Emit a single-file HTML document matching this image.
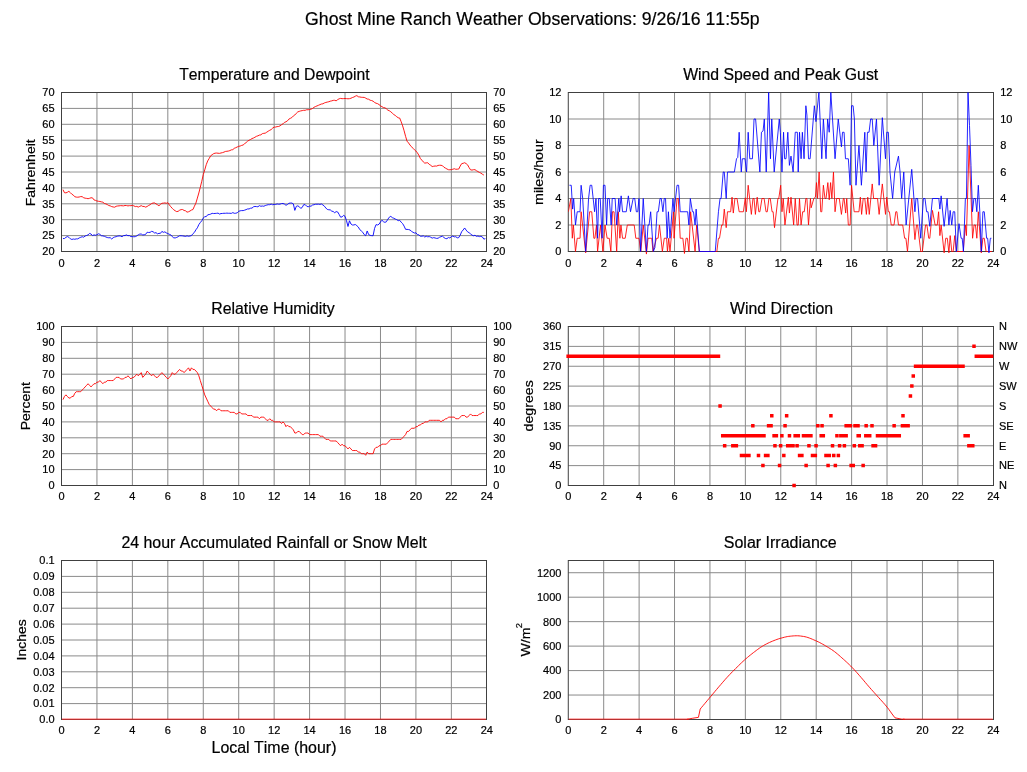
<!DOCTYPE html>
<html><head><meta charset="utf-8"><title>Ghost Mine Ranch Weather Observations</title>
<style>html,body{margin:0;padding:0;background:#fff;overflow:hidden;}svg{display:block;will-change:transform;}text{font-family:"Liberation Sans", sans-serif;font-kerning:none;stroke:#000;stroke-width:0.2px;}</style>
</head><body>
<svg width="1027" height="772" viewBox="0 0 1027 772" font-family='"Liberation Sans", sans-serif' fill="#000">
<rect width="1027" height="772" fill="#fff"/>
<text x="305.11" y="25.3" font-size="17.6" textLength="454.43" lengthAdjust="spacingAndGlyphs">Ghost Mine Ranch Weather Observations: 9/26/16 11:55p</text>
<path d="M96.94 92.5V251.5M132.38 92.5V251.5M167.82 92.5V251.5M203.27 92.5V251.5M238.71 92.5V251.5M274.15 92.5V251.5M309.59 92.5V251.5M345.03 92.5V251.5M380.48 92.5V251.5M415.92 92.5V251.5M451.36 92.5V251.5M61.5 235.6H486.5M61.5 219.7H486.5M61.5 203.8H486.5M61.5 187.9H486.5M61.5 172H486.5M61.5 156.1H486.5M61.5 140.2H486.5M61.5 124.3H486.5M61.5 108.4H486.5" stroke="#8a8a8a" stroke-width="1" fill="none"/>
<text x="61.5" y="266.9" text-anchor="middle" font-size="11.0">0</text>
<text x="96.94" y="266.9" text-anchor="middle" font-size="11.0">2</text>
<text x="132.38" y="266.9" text-anchor="middle" font-size="11.0">4</text>
<text x="167.82" y="266.9" text-anchor="middle" font-size="11.0">6</text>
<text x="203.27" y="266.9" text-anchor="middle" font-size="11.0">8</text>
<text x="238.71" y="266.9" text-anchor="middle" font-size="11.0">10</text>
<text x="274.15" y="266.9" text-anchor="middle" font-size="11.0">12</text>
<text x="309.59" y="266.9" text-anchor="middle" font-size="11.0">14</text>
<text x="345.03" y="266.9" text-anchor="middle" font-size="11.0">16</text>
<text x="380.48" y="266.9" text-anchor="middle" font-size="11.0">18</text>
<text x="415.92" y="266.9" text-anchor="middle" font-size="11.0">20</text>
<text x="451.36" y="266.9" text-anchor="middle" font-size="11.0">22</text>
<text x="486.8" y="266.9" text-anchor="middle" font-size="11.0">24</text>
<text x="54.6" y="255.35" text-anchor="end" font-size="11.0">20</text>
<text x="54.6" y="239.45" text-anchor="end" font-size="11.0">25</text>
<text x="54.6" y="223.55" text-anchor="end" font-size="11.0">30</text>
<text x="54.6" y="207.65" text-anchor="end" font-size="11.0">35</text>
<text x="54.6" y="191.75" text-anchor="end" font-size="11.0">40</text>
<text x="54.6" y="175.85" text-anchor="end" font-size="11.0">45</text>
<text x="54.6" y="159.95" text-anchor="end" font-size="11.0">50</text>
<text x="54.6" y="144.05" text-anchor="end" font-size="11.0">55</text>
<text x="54.6" y="128.15" text-anchor="end" font-size="11.0">60</text>
<text x="54.6" y="112.25" text-anchor="end" font-size="11.0">65</text>
<text x="54.6" y="96.35" text-anchor="end" font-size="11.0">70</text>
<text x="493.15" y="255.35" text-anchor="start" font-size="11.0">20</text>
<text x="493.15" y="239.45" text-anchor="start" font-size="11.0">25</text>
<text x="493.15" y="223.55" text-anchor="start" font-size="11.0">30</text>
<text x="493.15" y="207.65" text-anchor="start" font-size="11.0">35</text>
<text x="493.15" y="191.75" text-anchor="start" font-size="11.0">40</text>
<text x="493.15" y="175.85" text-anchor="start" font-size="11.0">45</text>
<text x="493.15" y="159.95" text-anchor="start" font-size="11.0">50</text>
<text x="493.15" y="144.05" text-anchor="start" font-size="11.0">55</text>
<text x="493.15" y="128.15" text-anchor="start" font-size="11.0">60</text>
<text x="493.15" y="112.25" text-anchor="start" font-size="11.0">65</text>
<text x="493.15" y="96.35" text-anchor="start" font-size="11.0">70</text>
<text x="179.25" y="80" font-size="15.8" textLength="190.27" lengthAdjust="spacingAndGlyphs">Temperature and Dewpoint</text>
<text transform="translate(35 206.25) rotate(-90)" font-size="13.7" textLength="66.95" lengthAdjust="spacingAndGlyphs">Fahrenheit</text>
<rect x="61.5" y="92.5" width="425" height="159" fill="none" stroke="#404040" stroke-width="1"/>
<path d="M62.98 189.64 L64.45 192.71 L65.93 192.87 L67.41 192.25 L68.88 191.30 L70.36 192.69 L71.84 194.19 L73.31 195.10 L74.79 196.72 L76.27 197.10 L77.74 197.20 L79.22 197.01 L80.70 196.58 L82.17 196.66 L83.65 197.73 L85.13 198.18 L86.60 198.40 L88.08 198.69 L89.56 198.31 L91.03 197.78 L92.51 197.87 L93.99 199.91 L95.46 200.38 L96.94 200.99 L98.42 201.28 L99.90 201.48 L101.37 201.85 L102.85 202.20 L104.33 203.43 L105.80 203.86 L107.28 204.56 L108.76 205.51 L110.23 205.88 L111.71 206.61 L113.19 206.96 L114.66 207.20 L116.14 206.31 L117.62 205.98 L119.09 205.85 L120.57 205.64 L122.05 205.74 L123.52 205.86 L125.00 205.48 L126.48 205.56 L127.95 205.90 L129.43 205.65 L130.91 205.69 L132.38 205.42 L133.86 205.89 L135.34 206.58 L136.81 206.40 L138.29 207.09 L139.77 206.39 L141.24 205.67 L142.72 206.44 L144.20 206.49 L145.67 207.15 L147.15 206.48 L148.63 205.48 L150.10 204.70 L151.58 203.54 L153.06 203.04 L154.53 202.91 L156.01 203.87 L157.49 204.76 L158.96 205.74 L160.44 204.39 L161.92 203.25 L163.39 203.13 L164.87 202.90 L166.35 203.27 L167.82 202.69 L169.30 204.85 L170.78 206.71 L172.26 208.32 L173.73 209.79 L175.21 210.78 L176.69 211.62 L178.16 211.32 L179.64 210.19 L181.12 209.62 L182.59 209.53 L184.07 210.46 L185.55 210.80 L187.02 212.17 L188.50 211.77 L189.98 211.04 L191.45 210.05 L192.93 209.55 L194.41 206.22 L195.88 203.10 L197.36 198.10 L198.84 192.98 L200.31 187.25 L201.79 181.21 L203.27 174.61 L204.74 169.88 L206.22 164.71 L207.70 160.92 L209.17 158.49 L210.65 155.82 L212.13 154.71 L213.60 153.65 L215.08 153.20 L216.56 153.05 L218.03 153.23 L219.51 153.36 L220.99 152.98 L222.46 152.65 L223.94 152.13 L225.42 151.46 L226.89 151.29 L228.37 151.05 L229.85 150.60 L231.32 149.87 L232.80 149.66 L234.28 148.32 L235.75 147.72 L237.23 146.96 L238.71 146.33 L240.19 146.02 L241.66 145.40 L243.14 145.01 L244.62 143.65 L246.09 142.63 L247.57 141.17 L249.05 140.26 L250.52 139.50 L252.00 138.57 L253.48 138.00 L254.95 137.24 L256.43 136.33 L257.91 135.84 L259.38 135.11 L260.86 134.84 L262.34 133.66 L263.81 133.33 L265.29 133.15 L266.77 132.17 L268.24 131.20 L269.72 130.29 L271.20 129.57 L272.67 128.11 L274.15 127.10 L275.63 127.06 L277.10 126.61 L278.58 126.47 L280.06 125.82 L281.53 124.71 L283.01 123.84 L284.49 122.35 L285.96 121.80 L287.44 120.85 L288.92 119.08 L290.39 118.34 L291.87 117.57 L293.35 115.95 L294.82 115.01 L296.30 113.31 L297.78 111.92 L299.25 111.39 L300.73 110.90 L302.21 110.61 L303.68 110.30 L305.16 110.32 L306.64 109.73 L308.11 109.78 L309.59 109.46 L311.07 109.10 L312.55 108.47 L314.02 107.31 L315.50 106.49 L316.98 105.93 L318.45 105.30 L319.93 104.63 L321.41 104.03 L322.88 103.79 L324.36 102.95 L325.84 102.45 L327.31 102.08 L328.79 101.73 L330.27 101.18 L331.74 100.85 L333.22 100.36 L334.70 100.29 L336.17 100.81 L337.65 99.64 L339.13 98.81 L340.60 98.41 L342.08 98.68 L343.56 98.61 L345.03 98.43 L346.51 98.63 L347.99 98.80 L349.46 98.66 L350.94 98.25 L352.42 97.54 L353.89 97.06 L355.37 96.17 L356.85 95.58 L358.32 96.76 L359.80 96.96 L361.28 97.28 L362.75 97.37 L364.23 97.40 L365.71 98.13 L367.18 99.03 L368.66 99.22 L370.14 100.23 L371.61 100.54 L373.09 101.20 L374.57 102.44 L376.04 103.23 L377.52 103.61 L379.00 104.57 L380.48 105.79 L381.95 106.68 L383.43 107.53 L384.91 107.81 L386.38 108.75 L387.86 110.17 L389.34 110.77 L390.81 111.78 L392.29 113.16 L393.77 114.52 L395.24 115.43 L396.72 116.72 L398.20 117.78 L399.67 118.02 L401.15 121.71 L402.63 125.87 L404.10 130.75 L405.58 136.33 L407.06 141.19 L408.53 142.90 L410.01 145.05 L411.49 146.70 L412.96 148.27 L414.44 149.81 L415.92 151.05 L417.39 152.80 L418.87 155.31 L420.35 158.45 L421.82 160.13 L423.30 161.88 L424.78 163.13 L426.25 162.86 L427.73 162.72 L429.21 164.36 L430.68 165.26 L432.16 166.54 L433.64 166.25 L435.11 165.99 L436.59 166.11 L438.07 165.45 L439.54 165.25 L441.02 165.28 L442.50 165.73 L443.97 167.27 L445.45 168.10 L446.93 168.97 L448.40 169.70 L449.88 169.81 L451.36 169.60 L452.84 169.24 L454.31 168.74 L455.79 169.28 L457.27 169.20 L458.74 169.05 L460.22 166.02 L461.70 163.63 L463.17 163.30 L464.65 162.73 L466.13 163.64 L467.60 164.85 L469.08 167.59 L470.56 169.85 L472.03 170.09 L473.51 169.69 L474.99 169.66 L476.46 170.73 L477.94 171.55 L479.42 172.48 L480.89 173.08 L482.37 174.23 L483.85 175.07" fill="none" stroke="#ff0000" stroke-width="0.9" stroke-linejoin="round" stroke-linecap="butt"/>
<path d="M62.98 238.53 L64.45 238.55 L65.93 237.31 L67.41 236.56 L68.88 237.31 L70.36 238.82 L71.84 239.46 L73.31 239.01 L74.79 239.28 L76.27 238.87 L77.74 238.89 L79.22 237.93 L80.70 237.32 L82.17 236.71 L83.65 237.19 L85.13 236.01 L86.60 235.47 L88.08 234.89 L89.56 233.46 L91.03 233.99 L92.51 235.58 L93.99 234.88 L95.46 235.23 L96.94 234.77 L98.42 233.78 L99.90 234.33 L101.37 235.71 L102.85 235.90 L104.33 236.30 L105.80 236.94 L107.28 237.53 L108.76 237.79 L110.23 237.68 L111.71 238.99 L113.19 237.71 L114.66 237.01 L116.14 236.70 L117.62 236.19 L119.09 235.88 L120.57 236.09 L122.05 236.72 L123.52 235.62 L125.00 235.52 L126.48 234.93 L127.95 235.68 L129.43 235.58 L130.91 236.66 L132.38 236.52 L133.86 236.81 L135.34 236.64 L136.81 235.91 L138.29 234.76 L139.77 234.08 L141.24 234.00 L142.72 234.93 L144.20 234.75 L145.67 234.34 L147.15 232.24 L148.63 232.48 L150.10 232.35 L151.58 231.37 L153.06 231.72 L154.53 232.96 L156.01 232.66 L157.49 233.84 L158.96 233.37 L160.44 233.33 L161.92 231.39 L163.39 232.34 L164.87 231.85 L166.35 232.90 L167.82 233.58 L169.30 234.30 L170.78 234.82 L172.26 236.65 L173.73 237.82 L175.21 237.93 L176.69 237.42 L178.16 236.70 L179.64 235.75 L181.12 235.75 L182.59 235.91 L184.07 236.12 L185.55 236.48 L187.02 235.82 L188.50 236.33 L189.98 235.97 L191.45 235.64 L192.93 233.70 L194.41 232.40 L195.88 229.80 L197.36 227.81 L198.84 224.60 L200.31 222.55 L201.79 220.76 L203.27 218.14 L204.74 216.59 L206.22 216.67 L207.70 214.79 L209.17 214.56 L210.65 214.12 L212.13 213.34 L213.60 213.55 L215.08 213.44 L216.56 213.34 L218.03 213.10 L219.51 214.04 L220.99 213.55 L222.46 213.45 L223.94 213.27 L225.42 213.30 L226.89 213.11 L228.37 213.28 L229.85 213.25 L231.32 213.40 L232.80 212.61 L234.28 213.29 L235.75 213.24 L237.23 212.81 L238.71 211.32 L240.19 210.80 L241.66 210.58 L243.14 210.60 L244.62 210.17 L246.09 209.63 L247.57 208.94 L249.05 208.95 L250.52 208.21 L252.00 208.08 L253.48 206.82 L254.95 206.43 L256.43 206.60 L257.91 206.78 L259.38 205.65 L260.86 206.27 L262.34 206.00 L263.81 206.24 L265.29 205.54 L266.77 205.07 L268.24 204.68 L269.72 204.71 L271.20 204.11 L272.67 204.75 L274.15 204.42 L275.63 204.48 L277.10 203.93 L278.58 204.22 L280.06 204.09 L281.53 203.57 L283.01 203.50 L284.49 204.12 L285.96 205.25 L287.44 204.54 L288.92 203.25 L290.39 203.06 L291.87 203.06 L293.35 203.90 L294.82 210.38 L296.30 206.34 L297.78 205.84 L299.25 206.69 L300.73 208.39 L302.21 207.43 L303.68 204.70 L305.16 204.65 L306.64 206.18 L308.11 206.86 L309.59 206.05 L311.07 206.20 L312.55 205.01 L314.02 204.72 L315.50 204.24 L316.98 204.23 L318.45 204.15 L319.93 204.40 L321.41 203.96 L322.88 204.95 L324.36 206.17 L325.84 207.99 L327.31 209.48 L328.79 209.75 L330.27 209.86 L331.74 211.14 L333.22 211.53 L334.70 212.74 L336.17 211.59 L337.65 211.96 L339.13 214.41 L340.60 217.17 L342.08 216.90 L343.56 215.36 L345.03 216.31 L346.51 220.65 L347.99 226.49 L349.46 220.77 L350.94 224.00 L352.42 224.99 L353.89 224.94 L355.37 224.51 L356.85 225.69 L358.32 227.04 L359.80 229.65 L361.28 230.87 L362.75 232.29 L364.23 234.63 L365.71 235.76 L367.18 230.98 L368.66 234.59 L370.14 235.35 L371.61 235.64 L373.09 235.72 L374.57 228.40 L376.04 224.60 L377.52 224.99 L379.00 224.23 L380.48 221.96 L381.95 220.23 L383.43 221.68 L384.91 222.36 L386.38 221.73 L387.86 219.21 L389.34 217.17 L390.81 216.32 L392.29 217.66 L393.77 218.22 L395.24 219.03 L396.72 219.64 L398.20 220.68 L399.67 220.30 L401.15 222.16 L402.63 223.61 L404.10 226.10 L405.58 229.34 L407.06 229.40 L408.53 229.56 L410.01 229.99 L411.49 231.32 L412.96 232.25 L414.44 233.04 L415.92 232.81 L417.39 234.54 L418.87 234.86 L420.35 236.21 L421.82 236.26 L423.30 235.85 L424.78 237.02 L426.25 236.28 L427.73 236.81 L429.21 236.59 L430.68 237.18 L432.16 238.13 L433.64 237.64 L435.11 237.98 L436.59 238.40 L438.07 238.25 L439.54 237.25 L441.02 236.64 L442.50 236.17 L443.97 237.57 L445.45 238.50 L446.93 238.70 L448.40 237.50 L449.88 238.04 L451.36 236.55 L452.84 236.09 L454.31 236.89 L455.79 236.71 L457.27 237.83 L458.74 237.61 L460.22 235.07 L461.70 231.66 L463.17 229.98 L464.65 227.97 L466.13 230.08 L467.60 231.84 L469.08 232.72 L470.56 233.89 L472.03 235.15 L473.51 235.74 L474.99 235.24 L476.46 236.39 L477.94 236.00 L479.42 236.61 L480.89 236.32 L482.37 236.96 L483.85 239.14 L485.32 238.65" fill="none" stroke="#0000ff" stroke-width="0.9" stroke-linejoin="round" stroke-linecap="butt"/>
<path d="M603.7 92.5V251.5M639.11 92.5V251.5M674.53 92.5V251.5M709.95 92.5V251.5M745.36 92.5V251.5M780.78 92.5V251.5M816.2 92.5V251.5M851.61 92.5V251.5M887.03 92.5V251.5M922.45 92.5V251.5M957.86 92.5V251.5M568.28 225H993.5M568.28 198.5H993.5M568.28 172H993.5M568.28 145.5H993.5M568.28 119H993.5" stroke="#8a8a8a" stroke-width="1" fill="none"/>
<text x="568.28" y="266.9" text-anchor="middle" font-size="11.0">0</text>
<text x="603.7" y="266.9" text-anchor="middle" font-size="11.0">2</text>
<text x="639.11" y="266.9" text-anchor="middle" font-size="11.0">4</text>
<text x="674.53" y="266.9" text-anchor="middle" font-size="11.0">6</text>
<text x="709.95" y="266.9" text-anchor="middle" font-size="11.0">8</text>
<text x="745.36" y="266.9" text-anchor="middle" font-size="11.0">10</text>
<text x="780.78" y="266.9" text-anchor="middle" font-size="11.0">12</text>
<text x="816.2" y="266.9" text-anchor="middle" font-size="11.0">14</text>
<text x="851.61" y="266.9" text-anchor="middle" font-size="11.0">16</text>
<text x="887.03" y="266.9" text-anchor="middle" font-size="11.0">18</text>
<text x="922.45" y="266.9" text-anchor="middle" font-size="11.0">20</text>
<text x="957.86" y="266.9" text-anchor="middle" font-size="11.0">22</text>
<text x="993.28" y="266.9" text-anchor="middle" font-size="11.0">24</text>
<text x="561.38" y="255.35" text-anchor="end" font-size="11.0">0</text>
<text x="561.38" y="228.85" text-anchor="end" font-size="11.0">2</text>
<text x="561.38" y="202.35" text-anchor="end" font-size="11.0">4</text>
<text x="561.38" y="175.85" text-anchor="end" font-size="11.0">6</text>
<text x="561.38" y="149.35" text-anchor="end" font-size="11.0">8</text>
<text x="561.38" y="122.85" text-anchor="end" font-size="11.0">10</text>
<text x="561.38" y="96.35" text-anchor="end" font-size="11.0">12</text>
<text x="1000.15" y="255.35" text-anchor="start" font-size="11.0">0</text>
<text x="1000.15" y="228.85" text-anchor="start" font-size="11.0">2</text>
<text x="1000.15" y="202.35" text-anchor="start" font-size="11.0">4</text>
<text x="1000.15" y="175.85" text-anchor="start" font-size="11.0">6</text>
<text x="1000.15" y="149.35" text-anchor="start" font-size="11.0">8</text>
<text x="1000.15" y="122.85" text-anchor="start" font-size="11.0">10</text>
<text x="1000.15" y="96.35" text-anchor="start" font-size="11.0">12</text>
<text x="683.13" y="80" font-size="15.8" textLength="195.09" lengthAdjust="spacingAndGlyphs">Wind Speed and Peak Gust</text>
<text transform="translate(543 204.94) rotate(-90)" font-size="13.7" textLength="65.58" lengthAdjust="spacingAndGlyphs">miles/hour</text>
<rect x="568.28" y="92.5" width="425.22" height="159" fill="none" stroke="#404040" stroke-width="1"/>
<clipPath id="cw"><rect x="568.28" y="92.0" width="425.22" height="162.5"/></clipPath>
<g clip-path="url(#cw)">
<path d="M568.37 211.75 L570.82 198.50 L572.30 238.25 L573.36 225.00 L575.49 251.50 L577.19 238.25 L580.05 238.25 L581.12 211.75 L585.68 252.82 L589.61 211.75 L591.74 211.75 L593.86 238.25 L594.92 238.25 L596.51 225.00 L597.58 251.50 L600.55 225.00 L602.89 251.50 L605.01 225.00 L607.13 238.25 L609.26 238.25 L610.85 251.50 L612.44 211.75 L614.04 211.75 L616.69 251.50 L618.28 211.75 L619.88 238.25 L620.94 225.00 L622.53 238.25 L625.19 238.25 L627.31 225.00 L634.21 225.00 L635.81 238.25 L638.99 238.25 L640.80 251.50 L643.24 225.00 L646.43 254.15 L648.02 238.25 L651.74 238.25 L653.01 251.50 L656.51 238.25 L658.11 238.25 L659.49 225.00 L662.36 251.50 L664.27 238.25 L666.60 238.25 L667.45 251.50 L668.73 238.25 L670.00 251.50 L673.51 211.75 L674.05 238.25 L677.03 198.50 L678.30 198.50 L680.21 238.25 L682.87 238.25 L684.46 253.49 L686.05 238.25 L687.43 238.25 L688.92 251.50 L690.62 211.75 L695.08 251.50 L696.67 225.00 L699.33 251.50 L716.85 251.50 L718.44 238.25 L719.51 238.25 L721.63 225.00 L722.90 225.00 L724.28 209.10 L726.20 227.65 L727.47 211.75 L730.66 211.75 L732.04 197.18 L733.31 213.07 L734.90 198.50 L737.03 198.50 L739.15 211.75 L743.40 211.75 L745.31 197.84 L746.37 211.75 L748.18 185.25 L751.36 214.40 L752.96 198.50 L754.02 198.50 L755.40 214.40 L757.20 197.18 L758.80 211.75 L759.86 211.75 L761.98 198.50 L764.11 198.50 L766.02 211.75 L767.29 211.75 L768.89 198.50 L770.27 198.50 L772.07 211.75 L773.13 211.75 L774.51 227.65 L777.91 198.50 L778.97 198.50 L778.78 198.50 L780.69 185.25 L781.97 211.75 L783.24 198.50 L784.94 225.00 L788.34 197.18 L789.40 213.07 L790.99 197.18 L793.65 225.00 L795.24 198.50 L797.05 225.00 L798.21 225.00 L799.49 198.50 L801.08 225.00 L802.67 211.75 L804.27 211.75 L805.86 198.50 L806.92 198.50 L808.51 225.00 L810.43 198.50 L811.17 207.78 L813.82 198.50 L815.42 197.18 L816.48 182.60 L817.54 198.50 L819.13 172.00 L820.73 211.75 L821.79 211.75 L823.38 185.25 L824.97 198.50 L826.04 198.50 L827.84 182.60 L829.22 199.82 L830.60 182.60 L831.88 198.50 L833.47 172.00 L835.06 211.75 L836.66 198.50 L839.31 198.50 L841.43 214.40 L843.35 198.50 L844.09 198.50 L845.68 213.07 L846.74 198.50 L848.34 225.00 L850.14 225.00 L851.52 185.25 L854.18 211.75 L858.96 211.75 L860.34 197.18 L861.61 214.40 L863.20 198.50 L864.80 198.50 L866.39 214.40 L867.77 197.18 L869.26 214.40 L872.23 183.93 L873.61 198.50 L877.54 198.50 L879.13 214.40 L882.32 183.93 L885.51 214.40 L886.78 197.18 L888.37 211.75 L889.43 211.75 L891.24 225.00 L894.00 225.00 L895.81 211.75 L896.87 211.75 L898.46 225.00 L902.71 225.00 L904.62 238.25 L905.90 238.25 L907.49 251.50 L911.74 198.50 L914.92 239.57 L916.51 225.00 L917.58 225.00 L920.76 251.50 L922.36 251.50 L925.54 225.00 L926.92 225.00 L928.73 238.25 L929.79 238.25 L932.44 210.43 L935.10 225.00 L937.22 225.00 L938.60 211.75 L939.88 235.60 L941.15 225.00 L944.13 252.82 L945.72 238.25 L947.31 238.25 L948.90 252.82 L950.18 235.60 L951.77 251.50 L953.15 251.50 L954.74 235.60 L956.34 251.50 L963.24 251.50 L965.36 225.00 L966.43 235.60 L969.08 145.50 L972.59 238.25 L974.07 225.00 L975.45 225.00 L976.83 238.25 L978.32 211.75 L981.29 252.82 L982.89 238.25 L984.27 238.25 L986.07 251.50 L991.91 251.50" fill="none" stroke="#ff0000" stroke-width="0.85" stroke-linejoin="miter" stroke-linecap="butt"/>
<path d="M569.43 185.25 L571.24 185.25 L572.62 209.10 L573.68 198.50 L575.49 225.00 L577.19 211.75 L580.05 211.75 L581.12 185.25 L582.71 198.50 L585.68 251.50 L588.55 198.50 L590.14 185.25 L591.74 185.25 L594.60 211.75 L595.98 198.50 L597.58 238.25 L598.64 198.50 L600.23 198.50 L602.14 238.25 L603.42 185.25 L605.01 185.25 L606.60 225.00 L607.66 198.50 L609.26 198.50 L611.17 225.00 L612.23 198.50 L615.10 198.50 L616.69 225.00 L618.82 198.50 L619.56 211.75 L621.15 195.85 L622.53 211.75 L626.25 211.75 L628.37 195.85 L630.50 211.75 L633.15 198.50 L634.74 198.50 L636.34 211.75 L637.72 211.75 L638.99 198.50 L640.59 251.50 L643.24 198.50 L646.43 251.50 L648.02 225.00 L649.08 225.00 L650.67 211.75 L653.33 251.50 L654.92 247.53 L657.05 211.75 L658.32 211.75 L660.02 198.50 L661.29 198.50 L662.89 211.75 L664.27 198.50 L665.54 198.50 L667.13 238.25 L668.41 211.75 L670.00 238.25 L672.97 198.50 L674.05 211.75 L677.03 185.25 L678.62 185.25 L680.21 211.75 L687.65 211.75 L688.92 225.00 L690.30 198.50 L692.43 211.75 L693.49 211.75 L695.08 225.00 L696.14 209.10 L699.33 251.50 L715.26 251.50 L718.44 211.75 L720.04 198.50 L721.10 198.50 L723.22 172.00 L724.28 172.00 L726.20 198.50 L727.47 172.00 L734.37 172.00 L736.50 158.75 L737.77 157.43 L739.15 132.25 L741.28 172.00 L742.34 158.75 L744.99 158.75 L746.59 172.00 L748.18 132.25 L749.77 158.75 L752.43 158.75 L754.02 119.00 L755.61 119.00 L759.86 172.00 L761.45 132.25 L763.05 130.93 L764.32 119.00 L766.23 172.00 L768.67 92.50 L770.48 158.75 L771.75 119.00 L774.20 172.00 L779.29 119.00 L780.37 132.25 L781.97 172.00 L783.56 132.25 L784.62 158.75 L786.00 158.75 L787.81 132.25 L789.40 165.38 L790.99 156.10 L793.12 172.00 L795.24 132.25 L797.36 132.25 L798.21 172.00 L799.49 132.25 L801.08 158.75 L802.36 132.25 L804.05 158.75 L805.86 105.75 L806.92 115.02 L808.51 158.75 L810.11 158.75 L814.36 105.75 L815.95 121.65 L818.92 92.50 L821.79 158.75 L823.38 119.00 L826.04 158.75 L827.63 119.00 L829.22 132.25 L830.82 92.50 L835.06 158.75 L838.25 119.00 L841.43 146.82 L842.50 132.25 L844.09 132.25 L845.47 158.75 L848.34 158.75 L850.14 185.25 L851.52 105.75 L853.12 105.75 L854.39 119.00 L855.98 185.25 L858.96 145.50 L861.40 185.25 L864.80 132.25 L866.07 172.00 L867.45 132.25 L869.05 132.25 L870.64 119.00 L872.23 119.00 L873.82 145.50 L876.48 119.00 L879.13 185.25 L882.32 117.68 L885.51 158.75 L886.78 132.25 L888.37 132.25 L889.97 172.00 L892.62 198.50 L894.74 172.00 L898.46 156.10 L900.05 172.00 L901.65 198.50 L903.77 172.00 L906.11 225.00 L911.74 169.35 L914.92 211.75 L915.98 198.50 L917.58 198.50 L920.76 238.25 L923.42 198.50 L925.01 198.50 L926.60 211.75 L927.98 211.75 L929.79 226.32 L932.44 198.50 L938.82 198.50 L939.88 209.10 L941.15 195.85 L944.13 226.32 L947.10 198.50 L948.90 225.00 L950.18 210.43 L951.77 225.00 L953.15 211.75 L954.74 211.75 L956.34 251.50 L958.99 223.68 L961.12 238.25 L962.18 238.25 L963.45 251.50 L965.36 198.50 L966.43 198.50 L968.02 92.50 L969.51 125.62 L970.99 165.38 L972.48 211.75 L973.86 198.50 L975.45 198.50 L976.83 211.75 L978.32 185.25 L979.81 211.75 L981.29 251.50 L982.89 211.75 L984.27 211.75 L986.60 238.25 L987.66 238.25 L988.94 252.82 L990.32 238.25 L991.38 238.25" fill="none" stroke="#0000ff" stroke-width="0.85" stroke-linejoin="miter" stroke-linecap="butt"/>
</g>
<path d="M96.94 326.5V485.5M132.38 326.5V485.5M167.82 326.5V485.5M203.27 326.5V485.5M238.71 326.5V485.5M274.15 326.5V485.5M309.59 326.5V485.5M345.03 326.5V485.5M380.48 326.5V485.5M415.92 326.5V485.5M451.36 326.5V485.5M61.5 469.6H486.5M61.5 453.7H486.5M61.5 437.8H486.5M61.5 421.9H486.5M61.5 406H486.5M61.5 390.1H486.5M61.5 374.2H486.5M61.5 358.3H486.5M61.5 342.4H486.5" stroke="#8a8a8a" stroke-width="1" fill="none"/>
<text x="61.5" y="499.9" text-anchor="middle" font-size="11.0">0</text>
<text x="96.94" y="499.9" text-anchor="middle" font-size="11.0">2</text>
<text x="132.38" y="499.9" text-anchor="middle" font-size="11.0">4</text>
<text x="167.82" y="499.9" text-anchor="middle" font-size="11.0">6</text>
<text x="203.27" y="499.9" text-anchor="middle" font-size="11.0">8</text>
<text x="238.71" y="499.9" text-anchor="middle" font-size="11.0">10</text>
<text x="274.15" y="499.9" text-anchor="middle" font-size="11.0">12</text>
<text x="309.59" y="499.9" text-anchor="middle" font-size="11.0">14</text>
<text x="345.03" y="499.9" text-anchor="middle" font-size="11.0">16</text>
<text x="380.48" y="499.9" text-anchor="middle" font-size="11.0">18</text>
<text x="415.92" y="499.9" text-anchor="middle" font-size="11.0">20</text>
<text x="451.36" y="499.9" text-anchor="middle" font-size="11.0">22</text>
<text x="486.8" y="499.9" text-anchor="middle" font-size="11.0">24</text>
<text x="54.6" y="489.35" text-anchor="end" font-size="11.0">0</text>
<text x="54.6" y="473.45" text-anchor="end" font-size="11.0">10</text>
<text x="54.6" y="457.55" text-anchor="end" font-size="11.0">20</text>
<text x="54.6" y="441.65" text-anchor="end" font-size="11.0">30</text>
<text x="54.6" y="425.75" text-anchor="end" font-size="11.0">40</text>
<text x="54.6" y="409.85" text-anchor="end" font-size="11.0">50</text>
<text x="54.6" y="393.95" text-anchor="end" font-size="11.0">60</text>
<text x="54.6" y="378.05" text-anchor="end" font-size="11.0">70</text>
<text x="54.6" y="362.15" text-anchor="end" font-size="11.0">80</text>
<text x="54.6" y="346.25" text-anchor="end" font-size="11.0">90</text>
<text x="54.6" y="330.35" text-anchor="end" font-size="11.0">100</text>
<text x="493.15" y="489.35" text-anchor="start" font-size="11.0">0</text>
<text x="493.15" y="473.45" text-anchor="start" font-size="11.0">10</text>
<text x="493.15" y="457.55" text-anchor="start" font-size="11.0">20</text>
<text x="493.15" y="441.65" text-anchor="start" font-size="11.0">30</text>
<text x="493.15" y="425.75" text-anchor="start" font-size="11.0">40</text>
<text x="493.15" y="409.85" text-anchor="start" font-size="11.0">50</text>
<text x="493.15" y="393.95" text-anchor="start" font-size="11.0">60</text>
<text x="493.15" y="378.05" text-anchor="start" font-size="11.0">70</text>
<text x="493.15" y="362.15" text-anchor="start" font-size="11.0">80</text>
<text x="493.15" y="346.25" text-anchor="start" font-size="11.0">90</text>
<text x="493.15" y="330.35" text-anchor="start" font-size="11.0">100</text>
<text x="211.23" y="314" font-size="15.8" textLength="123.42" lengthAdjust="spacingAndGlyphs">Relative Humidity</text>
<text transform="translate(30.1 430.25) rotate(-90)" font-size="13.7" textLength="48.15" lengthAdjust="spacingAndGlyphs">Percent</text>
<rect x="61.5" y="326.5" width="425" height="159" fill="none" stroke="#404040" stroke-width="1"/>
<path d="M62.98 399.64 L64.45 396.46 L65.93 394.87 L67.41 396.46 L68.88 398.05 L70.36 398.05 L71.84 396.46 L73.31 396.46 L74.79 393.28 L76.27 391.69 L77.74 391.69 L79.22 391.69 L80.70 391.69 L82.17 390.10 L83.65 388.51 L85.13 386.92 L86.60 385.33 L88.08 383.74 L89.56 385.33 L91.03 386.92 L92.51 385.33 L93.99 383.74 L95.46 383.74 L96.94 382.15 L98.42 382.15 L99.90 380.56 L101.37 382.15 L102.85 383.74 L104.33 382.15 L105.80 382.15 L107.28 380.56 L108.76 380.56 L110.23 380.56 L111.71 380.56 L113.19 380.56 L114.66 378.97 L116.14 377.38 L117.62 377.38 L119.09 377.38 L120.57 378.97 L122.05 378.97 L123.52 378.97 L125.00 377.38 L126.48 377.38 L127.95 375.79 L129.43 377.38 L130.91 378.97 L132.38 377.38 L133.86 377.38 L135.34 375.79 L136.81 374.20 L138.29 375.79 L139.77 374.20 L141.24 372.61 L142.72 377.38 L144.20 375.79 L145.67 374.20 L147.15 371.02 L148.63 372.61 L150.10 374.20 L151.58 375.79 L153.06 374.20 L154.53 375.79 L156.01 377.38 L157.49 377.38 L158.96 375.79 L160.44 374.20 L161.92 372.61 L163.39 374.20 L164.87 375.79 L166.35 377.38 L167.82 378.97 L169.30 377.38 L170.78 375.79 L172.26 372.61 L173.73 374.20 L175.21 374.20 L176.69 372.61 L178.16 371.02 L179.64 369.43 L181.12 371.02 L182.59 371.02 L184.07 372.61 L185.55 371.02 L187.02 369.43 L188.50 367.84 L189.98 371.02 L191.45 367.84 L192.93 369.43 L194.41 369.43 L195.88 371.02 L197.36 372.61 L198.84 375.79 L200.31 380.56 L201.79 385.33 L203.27 390.10 L204.74 394.87 L206.22 398.05 L207.70 401.23 L209.17 404.41 L210.65 406.00 L212.13 407.59 L213.60 409.18 L215.08 409.18 L216.56 410.77 L218.03 409.18 L219.51 409.18 L220.99 410.77 L222.46 410.77 L223.94 410.77 L225.42 410.77 L226.89 410.77 L228.37 410.77 L229.85 412.36 L231.32 412.36 L232.80 412.36 L234.28 412.36 L235.75 413.95 L237.23 413.95 L238.71 412.36 L240.19 412.36 L241.66 413.95 L243.14 413.95 L244.62 413.95 L246.09 413.95 L247.57 415.54 L249.05 415.54 L250.52 415.54 L252.00 415.54 L253.48 417.13 L254.95 417.13 L256.43 417.13 L257.91 417.13 L259.38 418.72 L260.86 417.13 L262.34 417.13 L263.81 417.13 L265.29 418.72 L266.77 420.31 L268.24 420.31 L269.72 418.72 L271.20 420.31 L272.67 420.31 L274.15 421.90 L275.63 421.90 L277.10 421.90 L278.58 421.90 L280.06 421.90 L281.53 423.49 L283.01 421.90 L284.49 423.49 L285.96 426.67 L287.44 425.08 L288.92 426.67 L290.39 426.67 L291.87 428.26 L293.35 429.85 L294.82 433.03 L296.30 433.03 L297.78 431.44 L299.25 431.44 L300.73 433.03 L302.21 434.62 L303.68 434.62 L305.16 433.03 L306.64 433.03 L308.11 433.03 L309.59 434.62 L311.07 434.62 L312.55 434.62 L314.02 434.62 L315.50 434.62 L316.98 434.62 L318.45 434.62 L319.93 436.21 L321.41 436.21 L322.88 436.21 L324.36 437.80 L325.84 439.39 L327.31 439.39 L328.79 439.39 L330.27 440.98 L331.74 440.98 L333.22 440.98 L334.70 440.98 L336.17 440.98 L337.65 442.57 L339.13 444.16 L340.60 445.75 L342.08 444.16 L343.56 445.75 L345.03 445.75 L346.51 447.34 L347.99 448.93 L349.46 447.34 L350.94 448.93 L352.42 450.52 L353.89 450.52 L355.37 450.52 L356.85 450.52 L358.32 452.11 L359.80 452.11 L361.28 453.70 L362.75 453.70 L364.23 453.70 L365.71 455.29 L367.18 452.11 L368.66 453.70 L370.14 453.70 L371.61 453.70 L373.09 453.70 L374.57 448.93 L376.04 447.34 L377.52 447.34 L379.00 445.75 L380.48 445.75 L381.95 444.16 L383.43 444.16 L384.91 444.16 L386.38 444.16 L387.86 442.57 L389.34 440.98 L390.81 439.39 L392.29 439.39 L393.77 439.39 L395.24 439.39 L396.72 439.39 L398.20 439.39 L399.67 439.39 L401.15 439.39 L402.63 437.80 L404.10 436.21 L405.58 434.62 L407.06 431.44 L408.53 431.44 L410.01 429.85 L411.49 428.26 L412.96 428.26 L414.44 428.26 L415.92 426.67 L417.39 426.67 L418.87 425.08 L420.35 425.08 L421.82 423.49 L423.30 423.49 L424.78 421.90 L426.25 421.90 L427.73 421.90 L429.21 420.31 L430.68 420.31 L432.16 420.31 L433.64 420.31 L435.11 420.31 L436.59 420.31 L438.07 420.31 L439.54 420.31 L441.02 421.90 L442.50 420.31 L443.97 420.31 L445.45 418.72 L446.93 418.72 L448.40 417.13 L449.88 417.13 L451.36 417.13 L452.84 417.13 L454.31 417.13 L455.79 418.72 L457.27 418.72 L458.74 418.72 L460.22 417.13 L461.70 415.54 L463.17 415.54 L464.65 415.54 L466.13 417.13 L467.60 417.13 L469.08 415.54 L470.56 413.95 L472.03 415.54 L473.51 415.54 L474.99 415.54 L476.46 415.54 L477.94 415.54 L479.42 413.95 L480.89 413.95 L482.37 412.36 L483.85 412.36" fill="none" stroke="#ff0000" stroke-width="0.9" stroke-linejoin="round" stroke-linecap="butt"/>
<path d="M603.7 326.5V485.5M639.11 326.5V485.5M674.53 326.5V485.5M709.95 326.5V485.5M745.36 326.5V485.5M780.78 326.5V485.5M816.2 326.5V485.5M851.61 326.5V485.5M887.03 326.5V485.5M922.45 326.5V485.5M957.86 326.5V485.5M568.28 465.62H993.5M568.28 445.75H993.5M568.28 425.88H993.5M568.28 406H993.5M568.28 386.12H993.5M568.28 366.25H993.5M568.28 346.38H993.5" stroke="#8a8a8a" stroke-width="1" fill="none"/>
<text x="568.28" y="499.9" text-anchor="middle" font-size="11.0">0</text>
<text x="603.7" y="499.9" text-anchor="middle" font-size="11.0">2</text>
<text x="639.11" y="499.9" text-anchor="middle" font-size="11.0">4</text>
<text x="674.53" y="499.9" text-anchor="middle" font-size="11.0">6</text>
<text x="709.95" y="499.9" text-anchor="middle" font-size="11.0">8</text>
<text x="745.36" y="499.9" text-anchor="middle" font-size="11.0">10</text>
<text x="780.78" y="499.9" text-anchor="middle" font-size="11.0">12</text>
<text x="816.2" y="499.9" text-anchor="middle" font-size="11.0">14</text>
<text x="851.61" y="499.9" text-anchor="middle" font-size="11.0">16</text>
<text x="887.03" y="499.9" text-anchor="middle" font-size="11.0">18</text>
<text x="922.45" y="499.9" text-anchor="middle" font-size="11.0">20</text>
<text x="957.86" y="499.9" text-anchor="middle" font-size="11.0">22</text>
<text x="993.28" y="499.9" text-anchor="middle" font-size="11.0">24</text>
<text x="561.38" y="489.35" text-anchor="end" font-size="11.0">0</text>
<text x="561.38" y="469.48" text-anchor="end" font-size="11.0">45</text>
<text x="561.38" y="449.6" text-anchor="end" font-size="11.0">90</text>
<text x="561.38" y="429.73" text-anchor="end" font-size="11.0">135</text>
<text x="561.38" y="409.85" text-anchor="end" font-size="11.0">180</text>
<text x="561.38" y="389.98" text-anchor="end" font-size="11.0">225</text>
<text x="561.38" y="370.1" text-anchor="end" font-size="11.0">270</text>
<text x="561.38" y="350.23" text-anchor="end" font-size="11.0">315</text>
<text x="561.38" y="330.35" text-anchor="end" font-size="11.0">360</text>
<text x="999" y="489.35" text-anchor="start" font-size="11.0">N</text>
<text x="999" y="469.48" text-anchor="start" font-size="11.0">NE</text>
<text x="999" y="449.6" text-anchor="start" font-size="11.0">E</text>
<text x="999" y="429.73" text-anchor="start" font-size="11.0">SE</text>
<text x="999" y="409.85" text-anchor="start" font-size="11.0">S</text>
<text x="999" y="389.98" text-anchor="start" font-size="11.0">SW</text>
<text x="999" y="370.1" text-anchor="start" font-size="11.0">W</text>
<text x="999" y="350.23" text-anchor="start" font-size="11.0">NW</text>
<text x="999" y="330.35" text-anchor="start" font-size="11.0">N</text>
<text x="730.03" y="314" font-size="15.8" textLength="103.05" lengthAdjust="spacingAndGlyphs">Wind Direction</text>
<text transform="translate(533.3 431.4) rotate(-90)" font-size="13.7" textLength="51.21" lengthAdjust="spacingAndGlyphs">degrees</text>
<rect x="568.28" y="326.5" width="425.22" height="159" fill="none" stroke="#404040" stroke-width="1"/>
<path d="M566.38 354.46h3.5v3.5h-3.5zM567.85 354.46h3.5v3.5h-3.5zM569.33 354.46h3.5v3.5h-3.5zM570.80 354.46h3.5v3.5h-3.5zM572.28 354.46h3.5v3.5h-3.5zM573.75 354.46h3.5v3.5h-3.5zM575.22 354.46h3.5v3.5h-3.5zM576.70 354.46h3.5v3.5h-3.5zM578.17 354.46h3.5v3.5h-3.5zM579.65 354.46h3.5v3.5h-3.5zM581.12 354.46h3.5v3.5h-3.5zM582.59 354.46h3.5v3.5h-3.5zM584.07 354.46h3.5v3.5h-3.5zM585.54 354.46h3.5v3.5h-3.5zM587.02 354.46h3.5v3.5h-3.5zM588.49 354.46h3.5v3.5h-3.5zM589.96 354.46h3.5v3.5h-3.5zM591.44 354.46h3.5v3.5h-3.5zM592.91 354.46h3.5v3.5h-3.5zM594.39 354.46h3.5v3.5h-3.5zM595.86 354.46h3.5v3.5h-3.5zM597.33 354.46h3.5v3.5h-3.5zM598.81 354.46h3.5v3.5h-3.5zM600.28 354.46h3.5v3.5h-3.5zM601.75 354.46h3.5v3.5h-3.5zM603.23 354.46h3.5v3.5h-3.5zM604.70 354.46h3.5v3.5h-3.5zM606.18 354.46h3.5v3.5h-3.5zM607.65 354.46h3.5v3.5h-3.5zM609.12 354.46h3.5v3.5h-3.5zM610.60 354.46h3.5v3.5h-3.5zM612.07 354.46h3.5v3.5h-3.5zM613.55 354.46h3.5v3.5h-3.5zM615.02 354.46h3.5v3.5h-3.5zM616.49 354.46h3.5v3.5h-3.5zM617.97 354.46h3.5v3.5h-3.5zM619.44 354.46h3.5v3.5h-3.5zM620.92 354.46h3.5v3.5h-3.5zM622.39 354.46h3.5v3.5h-3.5zM623.86 354.46h3.5v3.5h-3.5zM625.34 354.46h3.5v3.5h-3.5zM626.81 354.46h3.5v3.5h-3.5zM628.29 354.46h3.5v3.5h-3.5zM629.76 354.46h3.5v3.5h-3.5zM631.23 354.46h3.5v3.5h-3.5zM632.71 354.46h3.5v3.5h-3.5zM634.18 354.46h3.5v3.5h-3.5zM635.66 354.46h3.5v3.5h-3.5zM637.13 354.46h3.5v3.5h-3.5zM638.60 354.46h3.5v3.5h-3.5zM640.08 354.46h3.5v3.5h-3.5zM641.55 354.46h3.5v3.5h-3.5zM643.03 354.46h3.5v3.5h-3.5zM644.50 354.46h3.5v3.5h-3.5zM645.97 354.46h3.5v3.5h-3.5zM647.45 354.46h3.5v3.5h-3.5zM648.92 354.46h3.5v3.5h-3.5zM650.40 354.46h3.5v3.5h-3.5zM651.87 354.46h3.5v3.5h-3.5zM653.34 354.46h3.5v3.5h-3.5zM654.82 354.46h3.5v3.5h-3.5zM656.29 354.46h3.5v3.5h-3.5zM657.77 354.46h3.5v3.5h-3.5zM659.24 354.46h3.5v3.5h-3.5zM660.71 354.46h3.5v3.5h-3.5zM662.19 354.46h3.5v3.5h-3.5zM663.66 354.46h3.5v3.5h-3.5zM665.14 354.46h3.5v3.5h-3.5zM666.61 354.46h3.5v3.5h-3.5zM668.08 354.46h3.5v3.5h-3.5zM669.56 354.46h3.5v3.5h-3.5zM671.03 354.46h3.5v3.5h-3.5zM672.50 354.46h3.5v3.5h-3.5zM673.98 354.46h3.5v3.5h-3.5zM675.45 354.46h3.5v3.5h-3.5zM676.93 354.46h3.5v3.5h-3.5zM678.40 354.46h3.5v3.5h-3.5zM679.87 354.46h3.5v3.5h-3.5zM681.35 354.46h3.5v3.5h-3.5zM682.82 354.46h3.5v3.5h-3.5zM684.30 354.46h3.5v3.5h-3.5zM685.77 354.46h3.5v3.5h-3.5zM687.24 354.46h3.5v3.5h-3.5zM688.72 354.46h3.5v3.5h-3.5zM690.19 354.46h3.5v3.5h-3.5zM691.67 354.46h3.5v3.5h-3.5zM693.14 354.46h3.5v3.5h-3.5zM694.61 354.46h3.5v3.5h-3.5zM696.09 354.46h3.5v3.5h-3.5zM697.56 354.46h3.5v3.5h-3.5zM699.04 354.46h3.5v3.5h-3.5zM700.51 354.46h3.5v3.5h-3.5zM701.98 354.46h3.5v3.5h-3.5zM703.46 354.46h3.5v3.5h-3.5zM704.93 354.46h3.5v3.5h-3.5zM706.41 354.46h3.5v3.5h-3.5zM707.88 354.46h3.5v3.5h-3.5zM709.35 354.46h3.5v3.5h-3.5zM710.83 354.46h3.5v3.5h-3.5zM712.30 354.46h3.5v3.5h-3.5zM713.78 354.46h3.5v3.5h-3.5zM715.25 354.46h3.5v3.5h-3.5zM716.72 354.46h3.5v3.5h-3.5zM974.56 354.46h3.5v3.5h-3.5zM976.08 354.46h3.5v3.5h-3.5zM977.60 354.46h3.5v3.5h-3.5zM979.13 354.46h3.5v3.5h-3.5zM980.65 354.46h3.5v3.5h-3.5zM982.17 354.46h3.5v3.5h-3.5zM983.69 354.46h3.5v3.5h-3.5zM985.22 354.46h3.5v3.5h-3.5zM986.74 354.46h3.5v3.5h-3.5zM988.26 354.46h3.5v3.5h-3.5zM989.79 354.46h3.5v3.5h-3.5zM718.32 404.15h3.5v3.5h-3.5zM770.03 414.09h3.5v3.5h-3.5zM784.90 414.09h3.5v3.5h-3.5zM829.17 414.09h3.5v3.5h-3.5zM901.24 414.09h3.5v3.5h-3.5zM751.08 424.02h3.5v3.5h-3.5zM766.84 424.02h3.5v3.5h-3.5zM768.08 424.02h3.5v3.5h-3.5zM769.32 424.02h3.5v3.5h-3.5zM783.31 424.02h3.5v3.5h-3.5zM816.07 424.02h3.5v3.5h-3.5zM820.32 424.02h3.5v3.5h-3.5zM844.40 424.02h3.5v3.5h-3.5zM845.82 424.02h3.5v3.5h-3.5zM847.23 424.02h3.5v3.5h-3.5zM848.65 424.02h3.5v3.5h-3.5zM853.25 424.02h3.5v3.5h-3.5zM854.76 424.02h3.5v3.5h-3.5zM856.27 424.02h3.5v3.5h-3.5zM864.41 424.02h3.5v3.5h-3.5zM870.25 424.02h3.5v3.5h-3.5zM892.39 424.02h3.5v3.5h-3.5zM900.71 424.02h3.5v3.5h-3.5zM902.13 424.02h3.5v3.5h-3.5zM903.55 424.02h3.5v3.5h-3.5zM904.96 424.02h3.5v3.5h-3.5zM906.38 424.02h3.5v3.5h-3.5zM720.97 433.96h3.5v3.5h-3.5zM722.45 433.96h3.5v3.5h-3.5zM723.92 433.96h3.5v3.5h-3.5zM725.39 433.96h3.5v3.5h-3.5zM726.87 433.96h3.5v3.5h-3.5zM728.34 433.96h3.5v3.5h-3.5zM729.82 433.96h3.5v3.5h-3.5zM731.29 433.96h3.5v3.5h-3.5zM732.76 433.96h3.5v3.5h-3.5zM734.24 433.96h3.5v3.5h-3.5zM735.71 433.96h3.5v3.5h-3.5zM737.18 433.96h3.5v3.5h-3.5zM738.66 433.96h3.5v3.5h-3.5zM740.13 433.96h3.5v3.5h-3.5zM741.60 433.96h3.5v3.5h-3.5zM743.08 433.96h3.5v3.5h-3.5zM744.55 433.96h3.5v3.5h-3.5zM746.02 433.96h3.5v3.5h-3.5zM747.50 433.96h3.5v3.5h-3.5zM748.97 433.96h3.5v3.5h-3.5zM750.45 433.96h3.5v3.5h-3.5zM751.92 433.96h3.5v3.5h-3.5zM753.39 433.96h3.5v3.5h-3.5zM754.87 433.96h3.5v3.5h-3.5zM756.34 433.96h3.5v3.5h-3.5zM757.81 433.96h3.5v3.5h-3.5zM759.29 433.96h3.5v3.5h-3.5zM760.76 433.96h3.5v3.5h-3.5zM762.23 433.96h3.5v3.5h-3.5zM772.33 433.96h3.5v3.5h-3.5zM773.48 433.96h3.5v3.5h-3.5zM774.63 433.96h3.5v3.5h-3.5zM780.12 433.96h3.5v3.5h-3.5zM787.73 433.96h3.5v3.5h-3.5zM793.40 433.96h3.5v3.5h-3.5zM794.99 433.96h3.5v3.5h-3.5zM796.59 433.96h3.5v3.5h-3.5zM801.72 433.96h3.5v3.5h-3.5zM803.21 433.96h3.5v3.5h-3.5zM804.70 433.96h3.5v3.5h-3.5zM806.19 433.96h3.5v3.5h-3.5zM807.67 433.96h3.5v3.5h-3.5zM809.16 433.96h3.5v3.5h-3.5zM819.43 433.96h3.5v3.5h-3.5zM821.56 433.96h3.5v3.5h-3.5zM835.19 433.96h3.5v3.5h-3.5zM839.09 433.96h3.5v3.5h-3.5zM840.42 433.96h3.5v3.5h-3.5zM841.74 433.96h3.5v3.5h-3.5zM843.07 433.96h3.5v3.5h-3.5zM844.40 433.96h3.5v3.5h-3.5zM856.44 433.96h3.5v3.5h-3.5zM857.50 433.96h3.5v3.5h-3.5zM864.06 433.96h3.5v3.5h-3.5zM865.36 433.96h3.5v3.5h-3.5zM866.65 433.96h3.5v3.5h-3.5zM867.95 433.96h3.5v3.5h-3.5zM875.74 433.96h3.5v3.5h-3.5zM877.20 433.96h3.5v3.5h-3.5zM878.65 433.96h3.5v3.5h-3.5zM880.10 433.96h3.5v3.5h-3.5zM881.55 433.96h3.5v3.5h-3.5zM883.00 433.96h3.5v3.5h-3.5zM884.46 433.96h3.5v3.5h-3.5zM885.91 433.96h3.5v3.5h-3.5zM887.36 433.96h3.5v3.5h-3.5zM888.81 433.96h3.5v3.5h-3.5zM890.27 433.96h3.5v3.5h-3.5zM891.72 433.96h3.5v3.5h-3.5zM893.17 433.96h3.5v3.5h-3.5zM894.62 433.96h3.5v3.5h-3.5zM896.07 433.96h3.5v3.5h-3.5zM897.53 433.96h3.5v3.5h-3.5zM963.40 433.96h3.5v3.5h-3.5zM964.91 433.96h3.5v3.5h-3.5zM966.41 433.96h3.5v3.5h-3.5zM722.92 443.90h3.5v3.5h-3.5zM731.07 443.90h3.5v3.5h-3.5zM732.84 443.90h3.5v3.5h-3.5zM734.61 443.90h3.5v3.5h-3.5zM773.21 443.90h3.5v3.5h-3.5zM778.88 443.90h3.5v3.5h-3.5zM785.96 443.90h3.5v3.5h-3.5zM787.29 443.90h3.5v3.5h-3.5zM788.62 443.90h3.5v3.5h-3.5zM789.95 443.90h3.5v3.5h-3.5zM791.28 443.90h3.5v3.5h-3.5zM795.35 443.90h3.5v3.5h-3.5zM807.21 443.90h3.5v3.5h-3.5zM814.30 443.90h3.5v3.5h-3.5zM830.77 443.90h3.5v3.5h-3.5zM837.85 443.90h3.5v3.5h-3.5zM842.63 443.90h3.5v3.5h-3.5zM852.55 443.90h3.5v3.5h-3.5zM858.04 443.90h3.5v3.5h-3.5zM859.19 443.90h3.5v3.5h-3.5zM860.34 443.90h3.5v3.5h-3.5zM871.32 443.90h3.5v3.5h-3.5zM872.56 443.90h3.5v3.5h-3.5zM873.80 443.90h3.5v3.5h-3.5zM967.12 443.90h3.5v3.5h-3.5zM968.42 443.90h3.5v3.5h-3.5zM969.72 443.90h3.5v3.5h-3.5zM971.02 443.90h3.5v3.5h-3.5zM739.74 453.84h3.5v3.5h-3.5zM741.23 453.84h3.5v3.5h-3.5zM742.72 453.84h3.5v3.5h-3.5zM744.21 453.84h3.5v3.5h-3.5zM745.69 453.84h3.5v3.5h-3.5zM747.18 453.84h3.5v3.5h-3.5zM756.74 453.84h3.5v3.5h-3.5zM763.83 453.84h3.5v3.5h-3.5zM764.98 453.84h3.5v3.5h-3.5zM766.13 453.84h3.5v3.5h-3.5zM782.07 453.84h3.5v3.5h-3.5zM797.83 453.84h3.5v3.5h-3.5zM798.98 453.84h3.5v3.5h-3.5zM800.13 453.84h3.5v3.5h-3.5zM810.75 453.84h3.5v3.5h-3.5zM812.17 453.84h3.5v3.5h-3.5zM813.59 453.84h3.5v3.5h-3.5zM824.21 453.84h3.5v3.5h-3.5zM825.90 453.84h3.5v3.5h-3.5zM827.58 453.84h3.5v3.5h-3.5zM832.00 453.84h3.5v3.5h-3.5zM836.61 453.84h3.5v3.5h-3.5zM761.17 463.77h3.5v3.5h-3.5zM777.82 463.77h3.5v3.5h-3.5zM804.38 463.77h3.5v3.5h-3.5zM826.34 463.77h3.5v3.5h-3.5zM833.60 463.77h3.5v3.5h-3.5zM849.36 463.77h3.5v3.5h-3.5zM851.48 463.77h3.5v3.5h-3.5zM861.40 463.77h3.5v3.5h-3.5zM792.34 483.65h3.5v3.5h-3.5zM972.25 344.52h3.5v3.5h-3.5zM913.82 364.40h3.5v3.5h-3.5zM915.30 364.40h3.5v3.5h-3.5zM916.78 364.40h3.5v3.5h-3.5zM918.27 364.40h3.5v3.5h-3.5zM919.75 364.40h3.5v3.5h-3.5zM921.23 364.40h3.5v3.5h-3.5zM922.72 364.40h3.5v3.5h-3.5zM924.20 364.40h3.5v3.5h-3.5zM925.68 364.40h3.5v3.5h-3.5zM927.17 364.40h3.5v3.5h-3.5zM928.65 364.40h3.5v3.5h-3.5zM930.13 364.40h3.5v3.5h-3.5zM931.61 364.40h3.5v3.5h-3.5zM933.10 364.40h3.5v3.5h-3.5zM934.58 364.40h3.5v3.5h-3.5zM936.06 364.40h3.5v3.5h-3.5zM937.55 364.40h3.5v3.5h-3.5zM939.03 364.40h3.5v3.5h-3.5zM940.51 364.40h3.5v3.5h-3.5zM942.00 364.40h3.5v3.5h-3.5zM943.48 364.40h3.5v3.5h-3.5zM944.96 364.40h3.5v3.5h-3.5zM946.45 364.40h3.5v3.5h-3.5zM947.93 364.40h3.5v3.5h-3.5zM949.41 364.40h3.5v3.5h-3.5zM950.89 364.40h3.5v3.5h-3.5zM952.38 364.40h3.5v3.5h-3.5zM953.86 364.40h3.5v3.5h-3.5zM955.34 364.40h3.5v3.5h-3.5zM956.83 364.40h3.5v3.5h-3.5zM958.31 364.40h3.5v3.5h-3.5zM959.79 364.40h3.5v3.5h-3.5zM961.28 364.40h3.5v3.5h-3.5zM911.52 374.34h3.5v3.5h-3.5zM910.10 384.27h3.5v3.5h-3.5zM908.68 394.21h3.5v3.5h-3.5z" fill="#ff0000"/>
<path d="M96.94 560.5V719.5M132.38 560.5V719.5M167.82 560.5V719.5M203.27 560.5V719.5M238.71 560.5V719.5M274.15 560.5V719.5M309.59 560.5V719.5M345.03 560.5V719.5M380.48 560.5V719.5M415.92 560.5V719.5M451.36 560.5V719.5M61.5 703.6H486.5M61.5 687.7H486.5M61.5 671.8H486.5M61.5 655.9H486.5M61.5 640H486.5M61.5 624.1H486.5M61.5 608.2H486.5M61.5 592.3H486.5M61.5 576.4H486.5" stroke="#8a8a8a" stroke-width="1" fill="none"/>
<text x="61.5" y="733.9" text-anchor="middle" font-size="11.0">0</text>
<text x="96.94" y="733.9" text-anchor="middle" font-size="11.0">2</text>
<text x="132.38" y="733.9" text-anchor="middle" font-size="11.0">4</text>
<text x="167.82" y="733.9" text-anchor="middle" font-size="11.0">6</text>
<text x="203.27" y="733.9" text-anchor="middle" font-size="11.0">8</text>
<text x="238.71" y="733.9" text-anchor="middle" font-size="11.0">10</text>
<text x="274.15" y="733.9" text-anchor="middle" font-size="11.0">12</text>
<text x="309.59" y="733.9" text-anchor="middle" font-size="11.0">14</text>
<text x="345.03" y="733.9" text-anchor="middle" font-size="11.0">16</text>
<text x="380.48" y="733.9" text-anchor="middle" font-size="11.0">18</text>
<text x="415.92" y="733.9" text-anchor="middle" font-size="11.0">20</text>
<text x="451.36" y="733.9" text-anchor="middle" font-size="11.0">22</text>
<text x="486.8" y="733.9" text-anchor="middle" font-size="11.0">24</text>
<text x="54.6" y="723.35" text-anchor="end" font-size="11.0">0.0</text>
<text x="54.6" y="707.45" text-anchor="end" font-size="11.0">0.01</text>
<text x="54.6" y="691.55" text-anchor="end" font-size="11.0">0.02</text>
<text x="54.6" y="675.65" text-anchor="end" font-size="11.0">0.03</text>
<text x="54.6" y="659.75" text-anchor="end" font-size="11.0">0.04</text>
<text x="54.6" y="643.85" text-anchor="end" font-size="11.0">0.05</text>
<text x="54.6" y="627.95" text-anchor="end" font-size="11.0">0.06</text>
<text x="54.6" y="612.05" text-anchor="end" font-size="11.0">0.07</text>
<text x="54.6" y="596.15" text-anchor="end" font-size="11.0">0.08</text>
<text x="54.6" y="580.25" text-anchor="end" font-size="11.0">0.09</text>
<text x="54.6" y="564.35" text-anchor="end" font-size="11.0">0.1</text>
<text x="121.4" y="548" font-size="15.8" textLength="305.22" lengthAdjust="spacingAndGlyphs">24 hour Accumulated Rainfall or Snow Melt</text>
<text x="211.54" y="752.7" font-size="15.8" textLength="124.95" lengthAdjust="spacingAndGlyphs">Local Time (hour)</text>
<text transform="translate(25.9 660.39) rotate(-90)" font-size="13.7" textLength="41.09" lengthAdjust="spacingAndGlyphs">Inches</text>
<rect x="61.5" y="560.5" width="425" height="159" fill="none" stroke="#404040" stroke-width="1"/>
<path d="M62.0 719.5H486.0" stroke="#b83030" stroke-width="1" fill="none"/>
<path d="M62.0 718.5H486.0" stroke="#ff0000" stroke-opacity="0.3" stroke-width="1" fill="none"/>
<path d="M603.7 560.5V719.5M639.11 560.5V719.5M674.53 560.5V719.5M709.95 560.5V719.5M745.36 560.5V719.5M780.78 560.5V719.5M816.2 560.5V719.5M851.61 560.5V719.5M887.03 560.5V719.5M922.45 560.5V719.5M957.86 560.5V719.5M568.28 695.04H993.5M568.28 670.58H993.5M568.28 646.12H993.5M568.28 621.65H993.5M568.28 597.19H993.5M568.28 572.73H993.5" stroke="#8a8a8a" stroke-width="1" fill="none"/>
<text x="568.28" y="733.9" text-anchor="middle" font-size="11.0">0</text>
<text x="603.7" y="733.9" text-anchor="middle" font-size="11.0">2</text>
<text x="639.11" y="733.9" text-anchor="middle" font-size="11.0">4</text>
<text x="674.53" y="733.9" text-anchor="middle" font-size="11.0">6</text>
<text x="709.95" y="733.9" text-anchor="middle" font-size="11.0">8</text>
<text x="745.36" y="733.9" text-anchor="middle" font-size="11.0">10</text>
<text x="780.78" y="733.9" text-anchor="middle" font-size="11.0">12</text>
<text x="816.2" y="733.9" text-anchor="middle" font-size="11.0">14</text>
<text x="851.61" y="733.9" text-anchor="middle" font-size="11.0">16</text>
<text x="887.03" y="733.9" text-anchor="middle" font-size="11.0">18</text>
<text x="922.45" y="733.9" text-anchor="middle" font-size="11.0">20</text>
<text x="957.86" y="733.9" text-anchor="middle" font-size="11.0">22</text>
<text x="993.28" y="733.9" text-anchor="middle" font-size="11.0">24</text>
<text x="561.38" y="723.35" text-anchor="end" font-size="11.0">0</text>
<text x="561.38" y="698.89" text-anchor="end" font-size="11.0">200</text>
<text x="561.38" y="674.43" text-anchor="end" font-size="11.0">400</text>
<text x="561.38" y="649.97" text-anchor="end" font-size="11.0">600</text>
<text x="561.38" y="625.5" text-anchor="end" font-size="11.0">800</text>
<text x="561.38" y="601.04" text-anchor="end" font-size="11.0">1000</text>
<text x="561.38" y="576.58" text-anchor="end" font-size="11.0">1200</text>
<text x="723.77" y="547.9" font-size="15.8" textLength="112.99" lengthAdjust="spacingAndGlyphs">Solar Irradiance</text>
<text transform="translate(530.1 656.56) rotate(-90)" font-size="13.7" textLength="28.99" lengthAdjust="spacingAndGlyphs">W/m</text>
<text transform="translate(522.0 628.2) rotate(-90)" font-size="9.3">2</text>
<rect x="568.28" y="560.5" width="425.22" height="159" fill="none" stroke="#404040" stroke-width="1"/>
<path d="M568.78 719.5H688.70" stroke="#b83030" stroke-width="1" fill="none"/>
<path d="M568.78 718.5H688.70" stroke="#ff0000" stroke-opacity="0.3" stroke-width="1" fill="none"/>
<path d="M902.97 719.5H992.78" stroke="#b83030" stroke-width="1" fill="none"/>
<path d="M902.97 718.5H992.78" stroke="#ff0000" stroke-opacity="0.3" stroke-width="1" fill="none"/>
<path d="M686.93 719.30 L692.24 718.32 L698.44 717.34 L700.21 709.03 L701.68 707.26 L703.16 705.50 L704.63 703.74 L706.11 701.98 L707.59 700.22 L709.06 698.46 L710.54 696.70 L712.01 694.94 L713.49 693.18 L714.96 691.42 L716.44 689.67 L717.92 687.92 L719.39 686.20 L720.87 684.47 L722.34 682.75 L723.82 681.04 L725.29 679.35 L726.77 677.70 L728.25 676.10 L729.72 674.54 L731.20 673.01 L732.67 671.51 L734.15 670.03 L735.62 668.56 L737.10 667.10 L738.58 665.65 L740.05 664.20 L741.53 662.78 L743.00 661.39 L744.48 660.03 L745.95 658.73 L747.43 657.46 L748.90 656.23 L750.38 655.02 L751.86 653.85 L753.33 652.70 L754.81 651.58 L756.28 650.47 L757.76 649.37 L759.23 648.30 L760.71 647.28 L762.19 646.33 L763.66 645.45 L765.14 644.63 L766.61 643.85 L768.09 643.12 L769.56 642.42 L771.04 641.77 L772.52 641.15 L773.99 640.55 L775.47 639.97 L776.94 639.43 L778.42 638.92 L779.89 638.46 L781.37 638.05 L782.85 637.65 L784.32 637.26 L785.80 636.91 L787.27 636.60 L788.75 636.36 L790.22 636.19 L791.70 636.05 L793.18 635.92 L794.65 635.82 L796.13 635.77 L797.60 635.78 L799.08 635.87 L800.55 636.03 L802.03 636.23 L803.51 636.45 L804.98 636.71 L806.46 637.08 L807.93 637.53 L809.41 638.05 L810.88 638.62 L812.36 639.24 L813.84 639.88 L815.31 640.52 L816.79 641.16 L818.26 641.85 L819.74 642.59 L821.21 643.38 L822.69 644.20 L824.17 645.04 L825.64 645.89 L827.12 646.75 L828.59 647.65 L830.07 648.57 L831.54 649.53 L833.02 650.54 L834.50 651.61 L835.97 652.76 L837.45 653.97 L838.92 655.23 L840.40 656.53 L841.87 657.85 L843.35 659.16 L844.83 660.49 L846.30 661.83 L847.78 663.21 L849.25 664.61 L850.73 666.06 L852.20 667.56 L853.68 669.11 L855.15 670.72 L856.63 672.37 L858.11 674.04 L859.58 675.73 L861.06 677.41 L862.53 679.13 L864.01 680.87 L865.48 682.63 L866.96 684.38 L868.44 686.11 L869.91 687.81 L871.39 689.47 L872.86 691.12 L874.34 692.76 L875.81 694.40 L877.29 696.05 L878.77 697.70 L880.24 699.33 L881.72 700.94 L883.19 702.57 L884.67 704.24 L886.14 705.98 L887.62 707.82 L889.10 709.78 L890.57 711.84 L892.05 713.97 L895.00 717.83 L901.20 719.06 L904.74 719.30" fill="none" stroke="#ff0000" stroke-width="0.9" stroke-linejoin="round" stroke-linecap="butt"/>
</svg>
</body></html>
